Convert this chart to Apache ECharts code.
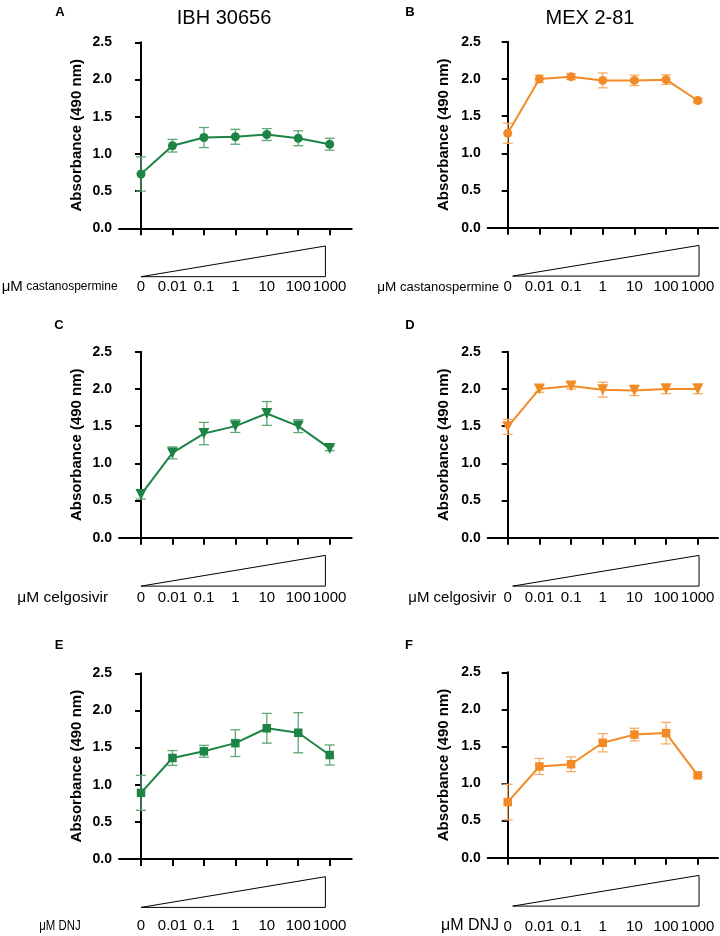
<!DOCTYPE html>
<html><head><meta charset="utf-8">
<script src="https://cdn.jsdelivr.net/npm/echarts@6/dist/echarts.min.js"></script>
<style>html,body{margin:0;padding:0;background:#fff}#c{width:720px;height:936px}</style>
</head><body><div id="c"></div>
<script>
// ---- data ----
const doseLabels = ['0', '0.01', '0.1', '1', '10', '100', '1000'];
const strains = ['IBH 30656', 'MEX 2-81'];
const panelLetters = ['A', 'B', 'C', 'D', 'E', 'F'];
const drugs = ['castanospermine', 'celgosivir', 'DNJ'];
const yTickValues = [0, 0.5, 1.0, 1.5, 2.0, 2.5];
const yAxisTitle = 'Absorbance (490 nm)';

const meanA = [0.73, 1.11, 1.22, 1.23, 1.26, 1.21, 1.13];
const errA  = [0.23, 0.085, 0.135, 0.10, 0.08, 0.10, 0.08];
const meanB = [1.27, 2.00, 2.03, 1.98, 1.98, 1.99, 1.71];
const errB  = [0.135, 0.05, 0.04, 0.10, 0.07, 0.065, 0.03];
const meanC = [0.58, 1.14, 1.40, 1.50, 1.67, 1.50, 1.20];
const errC  = [0.06, 0.08, 0.15, 0.085, 0.16, 0.087, 0.03];
const meanD = [1.49, 2.00, 2.04, 1.99, 1.98, 2.00, 2.00];
const errD  = [0.10, 0.045, 0.04, 0.10, 0.07, 0.065, 0.065];
const meanE = [0.89, 1.36, 1.45, 1.56, 1.76, 1.70, 1.40];
const errE  = [0.235, 0.10, 0.08, 0.18, 0.20, 0.27, 0.135];
const meanF = [0.75, 1.23, 1.26, 1.55, 1.66, 1.68, 1.11];
const errF  = [0.24, 0.108, 0.10, 0.123, 0.085, 0.146, 0.02];

// ---- layout / style ----
const FONT = '"Liberation Sans", Arial, Helvetica, sans-serif';
const GREEN = '#1d8446', GREEN_ERR = '#5ea876';
const ORANGE = '#f28a26', ORANGE_ERR = '#f5ae66';

const panels = [
  {means: meanA, errs: errA, color: GREEN, ecolor: GREEN_ERR, symbol: 'circle', size: 9, rot: 0,
   grid: {left: 119, top: 42.3, width: 232.7, height: 186}, xMin: -0.7, xMax: 6.7, nameGap: 34.5,
   labelMargin: 59, wedge: [0, -4.3], letter: [60, 12],
   drug: {x: 1.7, y: 287, rich: {a: 15, b: 12}, scaleX: 1}, drugIdx: 0},
  {means: meanB, errs: errB, color: ORANGE, ecolor: ORANGE_ERR, symbol: 'circle', size: 9, rot: 0,
   grid: {left: 487.7, top: 41.7, width: 230.3, height: 186}, xMin: -0.632, xMax: 6.64, nameGap: 36,
   labelMargin: 59, wedge: [5, 1.3], letter: [410, 12],
   drug: {x: 377.3, y: 287, rich: {a: 13.5, b: 13}, scaleX: 1}, drugIdx: 0},
  {means: meanC, errs: errC, color: GREEN, ecolor: GREEN_ERR, symbol: 'triangle', size: 11, rot: 180,
   grid: {left: 119, top: 351.7, width: 232.7, height: 186}, xMin: -0.7, xMax: 6.7, nameGap: 34.5,
   labelMargin: 60, wedge: [0, -4.3], letter: [59, 325],
   drug: {x: 17.3, y: 597.7, rich: {a: 15.5, b: 15.5}, scaleX: 1}, drugIdx: 1},
  {means: meanD, errs: errD, color: ORANGE, ecolor: ORANGE_ERR, symbol: 'triangle', size: 11, rot: 180,
   grid: {left: 487.7, top: 351.7, width: 230.3, height: 186}, xMin: -0.632, xMax: 6.64, nameGap: 36,
   labelMargin: 60, wedge: [5, 1.3], letter: [410, 325],
   drug: {x: 408.3, y: 597.7, rich: {a: 15, b: 15}, scaleX: 1}, drugIdx: 1},
  {means: meanE, errs: errE, color: GREEN, ecolor: GREEN_ERR, symbol: 'rect', size: 8.5, rot: 0,
   grid: {left: 119, top: 673.3, width: 232.7, height: 185.7}, xMin: -0.7, xMax: 6.7, nameGap: 34.5,
   labelMargin: 67, wedge: [0, -4.3], letter: [59, 645],
   drug: {x: 39.3, y: 926, rich: {a: 15, b: 15}, scaleX: 0.76}, drugIdx: 2},
  {means: meanF, errs: errF, color: ORANGE, ecolor: ORANGE_ERR, symbol: 'rect', size: 8.5, rot: 0,
   grid: {left: 487.7, top: 672.3, width: 230.3, height: 185.4}, xMin: -0.632, xMax: 6.64, nameGap: 36,
   labelMargin: 69, wedge: [5, 1.3], letter: [409, 645],
   drug: {x: 441, y: 926, rich: {a: 16, b: 16}, scaleX: 1}, drugIdx: 2}
];

const chart = echarts.init(document.getElementById('c'), null, {renderer: 'canvas'});
const grids = [], xAxes = [], yAxes = [], series = [], graphics = [];
const idx = doseLabels.map((_, i) => i);

panels.forEach((p, k) => {
  grids.push(Object.assign({containLabel: false, outerBoundsMode: 'none'}, p.grid));
  xAxes.push({
    type: 'value', gridIndex: k, min: p.xMin, max: p.xMax,
    axisLine: {show: true, onZero: false, lineStyle: {color: '#000', width: 2}},
    axisTick: {show: true, customValues: idx, length: 7, lineStyle: {color: '#000', width: 2}},
    axisLabel: {show: true, customValues: idx, margin: p.labelMargin, verticalAlign: 'middle',
      formatter: v => doseLabels[Math.round(v)], color: '#000', fontFamily: FONT, fontSize: 15},
    splitLine: {show: false}
  });
  yAxes.push({
    type: 'value', gridIndex: k, min: 0, max: 2.5, interval: 0.5,
    name: yAxisTitle, nameLocation: 'middle', nameGap: p.nameGap,
    nameTextStyle: {color: '#000', fontFamily: FONT, fontWeight: 'bold', fontSize: 15},
    axisLine: {show: true, lineStyle: {color: '#000', width: 2}},
    axisTick: {show: true, length: 6, lineStyle: {color: '#000', width: 2}},
    axisLabel: {margin: 7, color: '#000', fontFamily: FONT, fontWeight: 'bold', fontSize: 14,
      formatter: v => v.toFixed(1)},
    splitLine: {show: false}
  });
  const errData = p.means.map((m, i) => [i, m - p.errs[i], m + p.errs[i]]);
  series.push({
    type: 'custom', xAxisIndex: k, yAxisIndex: k, z: 2, silent: true, clip: false,
    data: errData,
    renderItem: (params, api) => {
      const x = api.value(0);
      const top = api.coord([x, api.value(2)]);
      const bot = api.coord([x, api.value(1)]);
      const w = 5;
      const st = {stroke: p.ecolor, lineWidth: 1.3, fill: null};
      return {type: 'group', children: [
        {type: 'line', shape: {x1: top[0], y1: top[1], x2: bot[0], y2: bot[1]}, style: st},
        {type: 'line', shape: {x1: top[0] - w, y1: top[1], x2: top[0] + w, y2: top[1]}, style: st},
        {type: 'line', shape: {x1: bot[0] - w, y1: bot[1], x2: bot[0] + w, y2: bot[1]}, style: st}
      ]};
    }
  });
  series.push({
    type: 'line', xAxisIndex: k, yAxisIndex: k, z: 3,
    data: p.means.map((m, i) => [i, m]),
    symbol: p.symbol, symbolSize: p.size, symbolRotate: p.rot, showSymbol: true,
    itemStyle: {color: p.color}, lineStyle: {color: p.color, width: 2}, silent: true
  });
  // dose wedge below axis
  series.push({
    type: 'custom', xAxisIndex: k, yAxisIndex: k, z: 1, silent: true, clip: false,
    data: [[0, 0]],
    renderItem: (params, api) => {
      const a = api.coord([0, 0]);
      const b = api.coord([doseLabels.length - 1, 0]);
      const xl = a[0] + p.wedge[0], xr = b[0] + p.wedge[1];
      const yb = a[1] + 48.4, yt = a[1] + 17.7;
      return {type: 'polygon', shape: {points: [[xl, yb], [xr, yt], [xr, yb]]},
        style: {fill: '#fff', stroke: '#000', lineWidth: 1}};
    }
  });
  graphics.push({
    type: 'text', x: p.letter[0], y: p.letter[1],
    style: {text: panelLetters[k], fill: '#000', font: 'bold 13px ' + FONT, align: 'center', verticalAlign: 'middle'}
  });
  graphics.push({
    type: 'text', x: p.drug.x, y: p.drug.y, scaleX: p.drug.scaleX, originX: 0, originY: 0,
    style: {text: '{a|μM} {b|' + drugs[p.drugIdx] + '}', fill: '#000', verticalAlign: 'middle', align: 'left',
      fontFamily: FONT, fontSize: p.drug.rich.b,
      rich: {a: {fontSize: p.drug.rich.a, fontFamily: FONT, fill: '#000'},
             b: {fontSize: p.drug.rich.b, fontFamily: FONT, fill: '#000'}}}
  });
});

graphics.push({type: 'text', x: 224, y: 18,
  style: {text: strains[0], fill: '#000', font: '20px ' + FONT, align: 'center', verticalAlign: 'middle'}});
graphics.push({type: 'text', x: 590, y: 18,
  style: {text: strains[1], fill: '#000', font: '20px ' + FONT, align: 'center', verticalAlign: 'middle'}});

chart.setOption({
  animation: false,
  backgroundColor: '#fff',
  grid: grids, xAxis: xAxes, yAxis: yAxes, series: series, graphic: graphics
});
</script></body></html>
